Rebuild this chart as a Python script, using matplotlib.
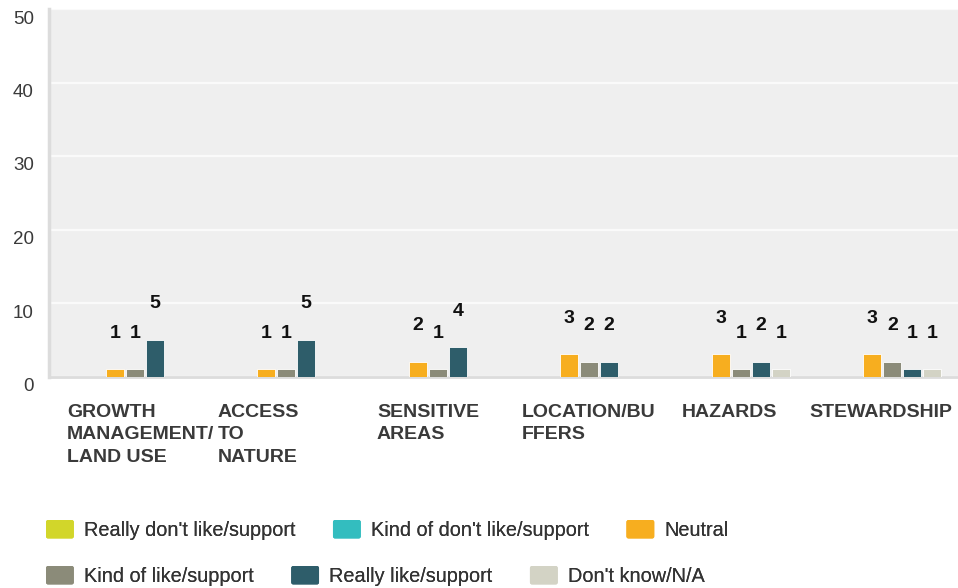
import matplotlib
matplotlib.use("Agg")
import matplotlib.pyplot as plt
import matplotlib.transforms as mtransforms
from matplotlib.patches import FancyBboxPatch, Patch
from matplotlib.legend_handler import HandlerPatch
import numpy as np

plt.rcParams["font.family"] = ["Liberation Sans", "DejaVu Sans"]

categories = [
    "GROWTH\nMANAGEMENT/\nLAND USE",
    "ACCESS\nTO\nNATURE",
    "SENSITIVE\nAREAS",
    "LOCATION/BU\nFFERS",
    "HAZARDS",
    "STEWARDSHIP",
]
series_names = [
    "Really don't like/support",
    "Kind of don't like/support",
    "Neutral",
    "Kind of like/support",
    "Really like/support",
    "Don't know/N/A",
]
really_dont = [0, 0, 0, 0, 0, 0]
kind_of_dont = [0, 0, 0, 0, 0, 0]
neutral = [1, 1, 2, 3, 3, 3]
kind_of_like = [1, 1, 1, 2, 1, 2]
really_like = [5, 5, 4, 2, 2, 1]
dont_know = [0, 0, 0, 0, 1, 1]
yticks = [0, 10, 20, 30, 40, 50]

series = [really_dont, kind_of_dont, neutral, kind_of_like, really_like, dont_know]
colors = ["#d2d62a", "#33bdbf", "#f7ae1f", "#8b8b79", "#2e5d6a", "#d3d3c5"]

# left offset of each category label inside its slot (data units)
label_left = [0.12, 0.115, 0.165, 0.12, 0.175, 0.02]

W, H = 958, 588
fig = plt.figure(figsize=(W / 100, H / 100), dpi=100)
ax = fig.add_axes([49 / W, (H - 376.5) / H, 909 / W, 367.5 / H])
ax.set_facecolor("#efefef")

x = np.arange(len(categories))
slot = 20 / 151.5
bar_w = 18 / 151.5

for j, vals in enumerate(series):
    pos = x + (j - 2.5) * slot
    ax.bar(pos, vals, width=bar_w, color=colors[j], edgecolor="white",
           linewidth=0.6, zorder=3)
    for px, v in zip(pos, vals):
        if v > 0:
            ax.annotate(str(v), (px, v), xytext=(0, 25.8), textcoords="offset points",
                        ha="center", va="center", fontsize=14, fontweight="bold",
                        color="#111111", zorder=4)

ax.set_xlim(-0.5, 5.5)
ax.set_ylim(0, 50)
ax.set_yticks(yticks)
ax.set_xticks([])
ax.yaxis.grid(True, color="#fafafa", linewidth=1.6, zorder=0)
ax.set_axisbelow(True)
ax.tick_params(axis="y", length=0, pad=11, labelsize=13.5, labelcolor="#3a3a3a")
shift = mtransforms.ScaledTranslation(0, -8 / 100, fig.dpi_scale_trans)
for lab in ax.get_yticklabels():
    lab.set_transform(lab.get_transform() + shift)

for s in ["top", "right"]:
    ax.spines[s].set_visible(False)
ax.spines["left"].set_color("#dcdcdc")
ax.spines["left"].set_linewidth(2.5)
ax.spines["bottom"].set_color("#dcdcdc")
ax.spines["bottom"].set_linewidth(2)

for i, name in enumerate(categories):
    ax.annotate(name, (i - 0.5 + label_left[i], 0), xycoords=("data", "axes fraction"),
                xytext=(0, -20), textcoords="offset points", ha="left", va="top",
                fontsize=14, fontweight="bold", color="#3a3a3a", linespacing=1.4,
                multialignment="left")


class RoundHandler(HandlerPatch):
    def create_artists(self, legend, orig_handle, xdescent, ydescent, width, height,
                       fontsize, trans):
        p = FancyBboxPatch((-xdescent + 1.5, -ydescent + 1.5), width - 3, height - 3,
                           boxstyle="round,pad=1.5", facecolor=orig_handle.get_facecolor(),
                           edgecolor="none", transform=trans)
        return [p]


handles = [Patch(facecolor=c) for c in colors]
rows = [(0, 0.0986), (3, 0.0204)]
for start, yfrac in rows:
    leg = fig.legend(handles[start:start + 3], series_names[start:start + 3], ncol=3,
                     loc="center left", bbox_to_anchor=(46 / W, yfrac), frameon=False,
                     fontsize=14.3, handlelength=1.4, handleheight=1.05,
                     handletextpad=0.5, columnspacing=1.9, borderpad=0,
                     borderaxespad=0, handler_map={Patch: RoundHandler()})
    for t in leg.get_texts():
        t.set_color("#333333")
    fig.add_artist(leg)

fig.savefig("out.png", dpi=100)
